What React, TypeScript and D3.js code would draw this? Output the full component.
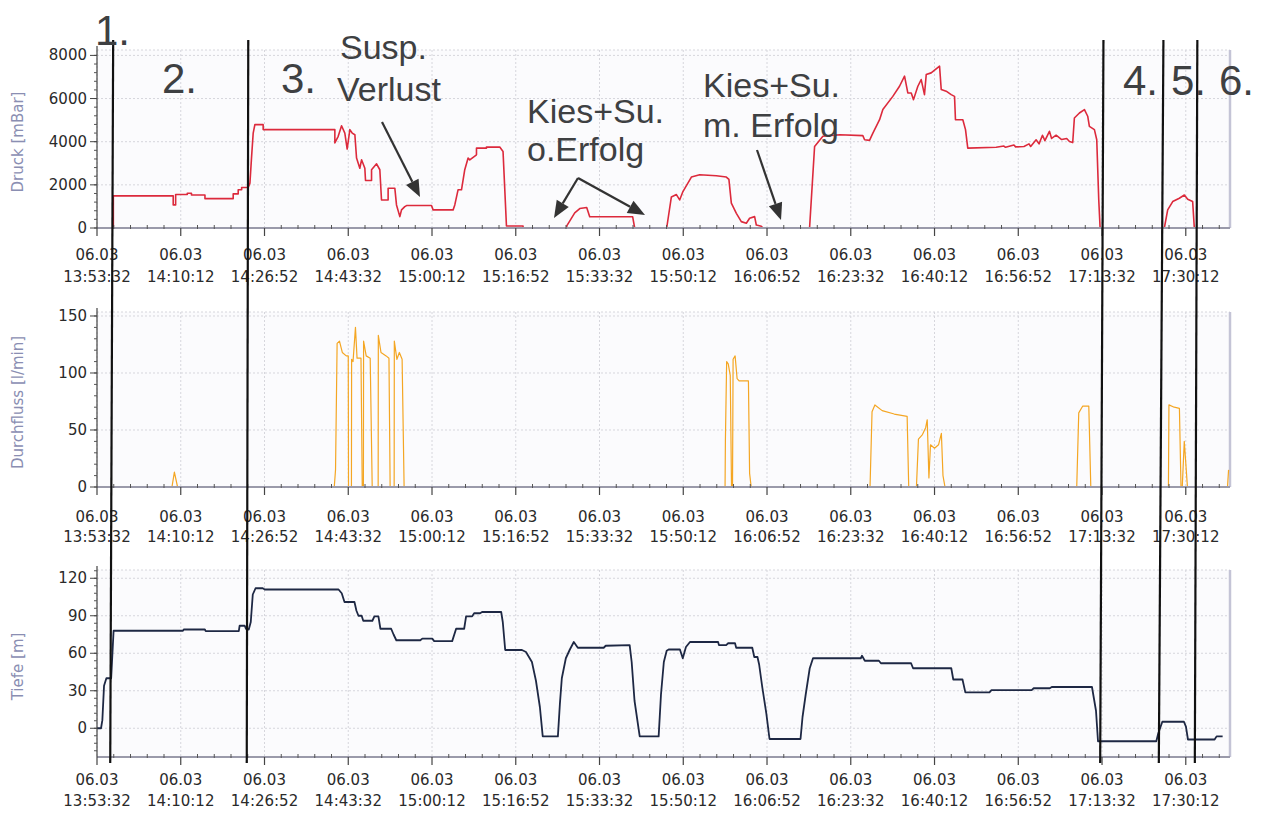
import React, { useEffect, useRef } from 'react';
import * as d3 from 'd3';

// Bohrprotokoll 06.03: Druck, Durchfluss, Tiefe ueber die Zeit

const dayLabel = '06.03';
const startTime = '13:53:32';
const endTime = '17:39:00';
const tickTimes = ['13:53:32', '14:10:12', '14:26:52', '14:43:32', '15:00:12', '15:16:52', '15:33:32',
  '15:50:12', '16:06:52', '16:23:32', '16:40:12', '16:56:52', '17:13:32', '17:30:12'];

const druckTicks = [0, 2000, 4000, 6000, 8000];
const flussTicks = [0, 50, 100, 150];
const tiefeTicks = [0, 30, 60, 90, 120];

// [zeit, mBar]
const druck: [string, number][] = [
  ['13:53:32', 0], ['13:56:47', 0], ['13:56:47', 1490], ['14:08:42', 1490], ['14:08:42', 1070], ['14:09:11', 1070],
  ['14:09:11', 1550], ['14:11:30', 1550], ['14:11:30', 1610], ['14:12:20', 1610], ['14:12:20', 1530], ['14:15:01', 1530],
  ['14:15:01', 1360], ['14:20:38', 1360], ['14:20:38', 1580], ['14:21:38', 1580], ['14:21:38', 1770], ['14:22:19', 1770],
  ['14:22:19', 1875], ['14:23:37', 1875], ['14:23:58', 2080], ['14:24:18', 3320], ['14:24:37', 4400], ['14:24:57', 4790],
  ['14:26:36', 4790], ['14:26:36', 4560], ['14:40:52', 4560], ['14:40:52', 3940], ['14:41:32', 4250], ['14:42:12', 4740],
  ['14:42:51', 4400], ['14:43:19', 3660], ['14:43:51', 4560], ['14:44:19', 4400], ['14:44:51', 4320], ['14:45:11', 3240],
  ['14:45:50', 2770], ['14:46:11', 3160], ['14:46:50', 2770], ['14:46:58', 2200], ['14:48:10', 2200], ['14:48:10', 2700],
  ['14:49:10', 2976], ['14:49:49', 2700], ['14:50:09', 1300], ['14:51:28', 1300], ['14:51:28', 1845], ['14:52:48', 1845],
  ['14:53:08', 1070], ['14:53:48', 527], ['14:54:08', 840], ['14:54:47', 990], ['14:55:08', 1040], ['15:00:06', 1040],
  ['15:00:25', 840], ['15:04:24', 840], ['15:04:44', 1070], ['15:05:23', 1770], ['15:06:04', 1770], ['15:06:43', 2700],
  ['15:07:23', 3240], ['15:07:43', 3160], ['15:09:03', 3390], ['15:09:03', 3700], ['15:11:02', 3700], ['15:11:02', 3750],
  ['15:13:41', 3750], ['15:14:20', 3550], ['15:15:01', 90], ['15:18:19', 90], ['15:18:19', 0],
  ['15:27:01', 0], ['15:27:01', 100], ['15:28:36', 700], ['15:29:36', 900], ['15:30:59', 950], ['15:31:35', 520],
  ['15:40:08', 520], ['15:40:32', 0], ['15:46:54', 0], ['15:47:50', 1440], ['15:48:50', 1550], ['15:49:29', 1300],
  ['15:50:08', 1690], ['15:51:49', 2360], ['15:53:28', 2465], ['15:56:47', 2420], ['15:58:46', 2360], ['15:59:17', 2250],
  ['15:59:46', 1150], ['16:00:46', 680], ['16:01:45', 295], ['16:02:45', 220], ['16:03:24', 450], ['16:04:24', 527],
  ['16:04:44', 140], ['16:05:44', 80], ['16:06:03', 0], ['16:15:20', 0], ['16:16:20', 3780], ['16:17:59', 4250],
  ['16:21:18', 4325], ['16:25:56', 4280], ['16:26:17', 4090], ['16:27:16', 4060], ['16:27:56', 4400], ['16:29:16', 5020],
  ['16:29:55', 5490], ['16:31:54', 6100], ['16:33:14', 6570], ['16:34:14', 7040], ['16:34:53', 6260], ['16:35:34', 6260],
  ['16:36:01', 5950], ['16:36:53', 6570], ['16:37:33', 6880], ['16:38:12', 6180], ['16:38:33', 7110], ['16:39:32', 7190],
  ['16:41:12', 7500], ['16:41:32', 6420], ['16:42:31', 6340], ['16:43:31', 6180], ['16:44:11', 6100], ['16:44:22', 5020],
  ['16:45:50', 5020], ['16:46:22', 4560], ['16:46:49', 3700], ['16:52:28', 3740], ['16:54:00', 3800], ['16:54:20', 3740],
  ['16:56:00', 3850], ['16:56:20', 3760], ['16:58:00', 3780], ['16:59:00', 3900], ['16:59:20', 3780], ['17:00:25', 4090],
  ['17:01:00', 3900], ['17:01:41', 4300], ['17:02:10', 4050], ['17:03:04', 4480], ['17:03:30', 4150], ['17:04:24', 4300],
  ['17:05:30', 4100], ['17:06:30', 4150], ['17:07:03', 4010], ['17:07:42', 3960], ['17:08:02', 5100], ['17:09:02', 5330],
  ['17:10:02', 5490], ['17:10:41', 5180], ['17:11:01', 4710], ['17:12:01', 4560], ['17:12:29', 4090], ['17:12:53', 1300],
  ['17:13:09', 0], ['17:25:56', 0], ['17:26:36', 840], ['17:27:36', 1225], ['17:28:55', 1380], ['17:29:55', 1530],
  ['17:30:35', 1330], ['17:31:34', 1225], ['17:31:54', 0], ['17:38:50', 0],
];

// [zeit, l/min]
const durchfluss: [string, number][] = [
  ['13:53:32', 0], ['14:08:27', 0], ['14:08:56', 13], ['14:09:34', 0],
  ['14:40:45', 0], ['14:41:00', 15], ['14:41:19', 126], ['14:41:47', 128], ['14:42:21', 118], ['14:43:08', 115],
  ['14:43:32', 115], ['14:43:35', 0], ['14:44:10', 0], ['14:44:12', 112], ['14:44:29', 110], ['14:44:58', 140],
  ['14:45:17', 113], ['14:46:04', 113], ['14:46:19', 0], ['14:46:33', 0], ['14:46:35', 128], ['14:47:06', 115],
  ['14:47:54', 113], ['14:48:18', 0], ['14:49:29', 0], ['14:49:31', 133], ['14:50:03', 118], ['14:51:04', 115],
  ['14:51:38', 113], ['14:51:52', 0], ['14:52:40', 0], ['14:52:42', 128], ['14:53:13', 112], ['14:53:42', 118],
  ['14:54:15', 112], ['14:54:39', 0],
  ['15:58:31', 0], ['15:58:35', 40], ['15:58:50', 110], ['15:59:09', 108], ['15:59:33', 98], ['15:59:48', 0],
  ['16:00:00', 0], ['16:00:07', 112], ['16:00:31', 115], ['16:00:55', 95], ['16:01:19', 93], ['16:03:10', 93],
  ['16:03:24', 12], ['16:03:43', 0],
  ['16:27:22', 0], ['16:27:46', 66], ['16:28:20', 72], ['16:29:47', 67], ['16:32:11', 64], ['16:34:45', 62], ['16:35:04', 0],
  ['16:36:36', 0], ['16:37:00', 42], ['16:37:48', 46], ['16:38:26', 52], ['16:38:45', 59], ['16:39:05', 8], ['16:39:24', 37],
  ['16:40:12', 34], ['16:41:00', 37], ['16:41:34', 47], ['16:41:53', 10], ['16:42:17', 0],
  ['17:08:30', 0], ['17:08:54', 65], ['17:09:42', 71], ['17:10:54', 71], ['17:11:18', 0],
  ['17:26:45', 0], ['17:26:51', 72], ['17:27:54', 70], ['17:28:56', 69], ['17:29:15', 0], ['17:29:30', 0], ['17:29:54', 40],
  ['17:30:32', 0], ['17:38:30', 0], ['17:38:43', 15],
];

// [zeit, m]
const tiefe: [string, number][] = [
  ['13:53:32', 0], ['13:54:20', 0], ['13:54:36', 6.5], ['13:54:56', 34], ['13:55:24', 40], ['13:56:21', 40], ['13:56:31', 53],
  ['13:56:50', 78], ['14:10:38', 78], ['14:10:48', 79], ['14:15:00', 79], ['14:15:10', 77.7], ['14:21:45', 77.7],
  ['14:21:55', 82], ['14:22:56', 82], ['14:23:11', 79.5], ['14:23:44', 79], ['14:24:08', 85], ['14:24:32', 107],
  ['14:25:05', 112], ['14:26:31', 112], ['14:26:55', 111], ['14:41:36', 111], ['14:42:14', 108], ['14:42:47', 101],
  ['14:44:46', 101], ['14:45:10', 94], ['14:45:34', 90], ['14:46:12', 90], ['14:46:31', 86], ['14:48:20', 86],
  ['14:48:44', 89.5], ['14:49:32', 89.5], ['14:49:56', 79.6], ['14:52:04', 79.6], ['14:52:33', 75], ['14:53:06', 70.4],
  ['14:57:52', 70.4], ['14:58:16', 71.7], ['15:00:15', 71.7], ['15:00:38', 69.7], ['15:04:13', 69.7], ['15:05:00', 79.6],
  ['15:06:36', 79.6], ['15:06:59', 89.5], ['15:08:11', 89.5], ['15:08:35', 92], ['15:09:46', 92], ['15:10:10', 93],
  ['15:13:58', 93], ['15:14:17', 85], ['15:14:46', 62.6], ['15:18:06', 62.6], ['15:18:54', 61], ['15:20:05', 53],
  ['15:20:53', 38], ['15:21:40', 17], ['15:22:14', -6.5], ['15:25:15', -6.5], ['15:25:39', 19.6], ['15:26:02', 40],
  ['15:26:50', 56], ['15:27:38', 63], ['15:28:25', 69], ['15:29:13', 64.4], ['15:34:22', 64.4], ['15:34:46', 66],
  ['15:39:32', 66.5], ['15:39:56', 53], ['15:40:30', 22], ['15:41:32', -6.5], ['15:45:18', -6.5], ['15:45:46', 27],
  ['15:46:20', 53], ['15:46:54', 62], ['15:47:18', 63], ['15:49:32', 63], ['15:50:06', 56], ['15:50:44', 65],
  ['15:51:32', 69], ['15:57:08', 69], ['15:57:18', 66.5], ['15:58:44', 66.5], ['15:59:08', 68], ['16:00:30', 68],
  ['16:00:44', 64.4], ['16:03:56', 64.4], ['16:04:20', 57], ['16:04:58', 57], ['16:05:18', 51], ['16:05:56', 32.6],
  ['16:06:44', 11.7], ['16:07:22', -8.6], ['16:13:32', -8.6], ['16:13:56', 9], ['16:14:34', 27], ['16:15:22', 48],
  ['16:16:01', 56], ['16:25:32', 56], ['16:25:46', 58], ['16:26:20', 54], ['16:29:08', 54], ['16:29:32', 52],
  ['16:35:32', 52], ['16:35:56', 48], ['16:43:32', 48], ['16:43:56', 39], ['16:45:46', 39], ['16:46:20', 28.7],
  ['16:51:08', 28.7], ['16:51:32', 30.5], ['16:59:32', 30.5], ['16:59:56', 32], ['17:03:08', 32], ['17:03:32', 33],
  ['17:11:32', 33], ['17:12:20', 14], ['17:12:44', -10.4], ['17:24:20', -10.4], ['17:24:44', -4], ['17:25:32', 5.2],
  ['17:29:50', 5.2], ['17:30:14', 1.3], ['17:30:38', -9], ['17:35:56', -9], ['17:36:20', -6.5], ['17:37:32', -6.5],
];

// Phasengrenzen (oben, unten)
const phaseLines: [string, string][] = [
  ['13:56:45', '13:56:10'], ['14:23:38', '14:23:20'], ['17:13:49', '17:13:10'], ['17:25:45', '17:24:50'], ['17:32:30', '17:32:00'],
];

const panels = [
  { title: 'Druck [mBar]', data: druck, ticks: druckTicks, minor: 400, domain: [0, 8250], top: 50, bottom: 228,
    lab: [32, 54], color: '#dc2a3c', lw: 1.6 },
  { title: 'Durchfluss [l/min]', data: durchfluss, ticks: flussTicks, minor: 10, domain: [0, 153.5], top: 312, bottom: 487,
    lab: [35, 55], color: '#f4a623', lw: 1.2 },
  { title: 'Tiefe [m]', data: tiefe, ticks: tiefeTicks, minor: 6, domain: [-23, 126.6], top: 570, bottom: 757,
    lab: [28, 49], color: '#1e2844', lw: 1.8 },
];

const notes = [
  { t: '1.', x: 95, y: 45, s: 42 }, { t: '2.', x: 162, y: 93, s: 42 }, { t: '3.', x: 281, y: 93, s: 42 },
  { t: 'Susp.', x: 340, y: 59, s: 34 }, { t: 'Verlust', x: 337, y: 101, s: 34 },
  { t: 'Kies+Su.', x: 527, y: 123, s: 34 }, { t: 'o.Erfolg', x: 527, y: 161, s: 34 },
  { t: 'Kies+Su.', x: 703, y: 97, s: 34 }, { t: 'm. Erfolg', x: 703, y: 137, s: 34 },
  { t: '4.', x: 1123, y: 95, s: 42 }, { t: '5.', x: 1171, y: 95, s: 42 }, { t: '6.', x: 1219, y: 95, s: 42 },
];

const arrows = [
  [[382, 122], [420, 197]], [[578, 178], [554, 218]], [[578, 178], [645, 215]], [[757, 150], [781, 220]],
];

export default function App() {
  const ref = useRef<SVGSVGElement>(null);

  useEffect(() => {
    const svg = d3.select(ref.current);
    svg.selectAll('*').remove();
    const parse = d3.timeParse('%H:%M:%S');
    const x = d3.scaleTime().domain([parse(startTime)!, parse(endTime)!]).range([97, 1230]);
    const tickDates = tickTimes.map((t) => parse(t)!);
    const minorDates: Date[] = [];
    tickDates.forEach((d) => {
      for (let i = 1; i < 5; i++) minorDates.push(new Date(d.getTime() + i * 200000));
    });
    const x0 = x.range()[0];
    const x1 = x.range()[1];

    panels.forEach((p) => {
      const y = d3.scaleLinear().domain(p.domain).range([p.bottom, p.top]);
      const g = svg.append('g');

      g.append('rect').attr('x', x0).attr('y', p.top).attr('width', x1 - x0).attr('height', p.bottom - p.top)
        .attr('fill', '#fbfbfd');

      // grid
      g.selectAll('.vg').data(tickDates).enter().append('line')
        .attr('x1', (d) => x(d)).attr('x2', (d) => x(d)).attr('y1', p.top).attr('y2', p.bottom)
        .attr('stroke', '#d6d6dc').attr('stroke-dasharray', '2,2');
      g.selectAll('.hg').data(p.ticks.concat([p.domain[1]])).enter().append('line')
        .attr('x1', x0).attr('x2', x1).attr('y1', (d) => y(d)).attr('y2', (d) => y(d))
        .attr('stroke', '#d6d6dc').attr('stroke-dasharray', '2,2');
      g.append('line').attr('x1', x1).attr('x2', x1).attr('y1', p.top).attr('y2', p.bottom)
        .attr('stroke', '#c4c4d6').attr('stroke-width', 2.5);

      // series
      const line = d3.line<[string, number]>().x((d) => x(parse(d[0])!)).y((d) => y(d[1]));
      g.append('path').attr('d', line(p.data)).attr('fill', 'none').attr('stroke', p.color)
        .attr('stroke-width', p.lw).attr('stroke-linejoin', 'round');

      // x axis
      g.append('line').attr('x1', x0).attr('x2', x1).attr('y1', p.bottom).attr('y2', p.bottom)
        .attr('stroke', '#9a9aaa').attr('stroke-width', 2);
      g.selectAll('.mt').data(minorDates.filter((d) => x(d) < x1)).enter().append('line')
        .attr('x1', (d) => x(d)).attr('x2', (d) => x(d)).attr('y1', p.bottom - 3).attr('y2', p.bottom + 1)
        .attr('stroke', '#555');
      g.selectAll('.Mt').data(tickDates).enter().append('line')
        .attr('x1', (d) => x(d)).attr('x2', (d) => x(d)).attr('y1', p.bottom).attr('y2', p.bottom + 8)
        .attr('stroke', '#444').attr('stroke-width', 1.2);
      const lab = g.selectAll('.xl').data(tickTimes).enter().append('text')
        .attr('text-anchor', 'middle').attr('font-family', 'DejaVu Sans, Verdana, sans-serif')
        .attr('font-size', 15).attr('fill', '#2a2a2a');
      lab.append('tspan').attr('x', (d) => x(parse(d)!)).attr('y', p.bottom + p.lab[0]).text(dayLabel);
      lab.append('tspan').attr('x', (d) => x(parse(d)!)).attr('y', p.bottom + p.lab[1]).text((d) => d);

      // y axis
      g.append('line').attr('x1', x0).attr('x2', x0).attr('y1', p.top - 4).attr('y2', p.bottom)
        .attr('stroke', '#444').attr('stroke-width', 1.2);
      const minorY = d3.range(Math.ceil(p.domain[0] / p.minor) * p.minor, p.domain[1], p.minor);
      g.selectAll('.my').data(minorY).enter().append('line')
        .attr('x1', x0 - 3).attr('x2', x0).attr('y1', (d) => y(d)).attr('y2', (d) => y(d)).attr('stroke', '#555');
      g.selectAll('.My').data(p.ticks).enter().append('line')
        .attr('x1', x0 - 7).attr('x2', x0).attr('y1', (d) => y(d)).attr('y2', (d) => y(d)).attr('stroke', '#444');
      g.selectAll('.yl').data(p.ticks).enter().append('text')
        .attr('x', x0 - 10).attr('y', (d) => y(d) + 5).attr('text-anchor', 'end')
        .attr('font-family', 'DejaVu Sans, Verdana, sans-serif').attr('font-size', 15).attr('fill', '#2a2a2a')
        .text((d) => String(d));
      g.append('text').attr('transform', `translate(23,${(p.top + p.bottom) / 2 + 3}) rotate(-90)`)
        .attr('text-anchor', 'middle').attr('font-family', 'DejaVu Sans, Verdana, sans-serif')
        .attr('font-size', 15).attr('fill', '#8a8eb2').text(p.title);
    });

    // phase lines
    svg.selectAll('.ph').data(phaseLines).enter().append('line')
      .attr('x1', (d) => x(parse(d[0])!)).attr('x2', (d) => x(parse(d[1])!)).attr('y1', 40).attr('y2', 763)
      .attr('stroke', '#111').attr('stroke-width', 2.2);

    // annotations
    svg.selectAll('.nt').data(notes).enter().append('text')
      .attr('x', (d) => d.x).attr('y', (d) => d.y).attr('font-size', (d) => d.s)
      .attr('font-family', 'Liberation Sans, Arial, sans-serif').attr('fill', '#3e4042').text((d) => d.t);
    arrows.forEach(([a, b]) => {
      const ang = Math.atan2(b[1] - a[1], b[0] - a[0]);
      const len = 17;
      const wid = 7;
      const bx = b[0] - len * Math.cos(ang);
      const by = b[1] - len * Math.sin(ang);
      svg.append('line').attr('x1', a[0]).attr('y1', a[1]).attr('x2', bx).attr('y2', by)
        .attr('stroke', '#333').attr('stroke-width', 2.2);
      const pts = [
        [b[0], b[1]],
        [bx + wid * Math.sin(ang), by - wid * Math.cos(ang)],
        [bx - wid * Math.sin(ang), by + wid * Math.cos(ang)],
      ];
      svg.append('polygon').attr('points', pts.map((q) => q.join(',')).join(' ')).attr('fill', '#333');
    });
  }, []);

  return (
    <svg ref={ref} width={1261} height={814} style={{ position: 'absolute', left: 0, top: 0, background: '#fff' }} />
  );
}
